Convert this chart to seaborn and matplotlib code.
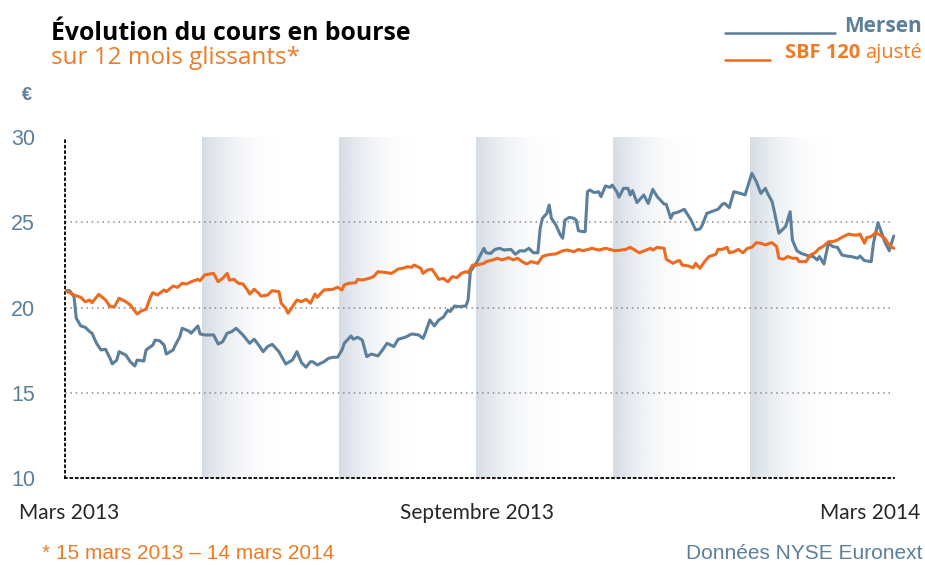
import matplotlib
matplotlib.use("Agg")
import matplotlib.pyplot as plt
from matplotlib.lines import Line2D
import numpy as np
import pandas as pd
import seaborn as sns

# Cours Mersen (jours depuis le 15 mars 2013, euros)
mersen_jour = [0, 2, 4, 5, 7, 9, 11, 12, 14, 16, 18, 20, 21, 23, 24, 27, 29, 31, 32, 35,
               36, 39, 40, 42, 44, 45, 48, 49, 51, 52, 55, 56, 59, 60, 62, 66, 68, 70, 72, 74,
               76, 79, 82, 84, 86, 88, 90, 92, 95, 98, 101, 103, 105, 107, 109, 110, 112, 115, 117, 119,
               121, 123, 124, 127, 128, 130, 132, 134, 136, 139, 141, 143, 146, 148, 151, 154, 157, 159, 160, 162,
               164, 166, 168, 170, 171, 173, 175, 178, 179, 180, 183, 186, 187, 189, 191, 193, 195, 198, 200, 202,
               204, 206, 208, 210, 211, 212, 214, 215, 216, 218, 220, 221, 222, 224, 226, 227, 228, 230, 231, 232,
               233, 235, 237, 238, 240, 242, 243, 245, 246, 248, 250, 251, 252, 254, 257, 259, 261, 263, 266, 267,
               269, 270, 272, 275, 278, 280, 282, 283, 285, 288, 290, 292, 293, 295, 297, 300, 302, 305, 307, 309,
               311, 312, 314, 315, 317, 320, 322, 323, 325, 327, 329, 331, 332, 334, 335, 337, 339, 341, 343, 345,
               347, 349, 352, 353, 355, 358, 359, 361, 363, 364, 366, 368]
mersen_cours = [20.99, 20.99, 20.64, 19.37, 18.92, 18.84, 18.58, 18.49, 17.90, 17.51, 17.55, 17.02, 16.69, 16.92, 17.41, 17.21, 16.82, 16.57, 16.92, 16.86,
                17.51, 17.80, 18.09, 18.05, 17.80, 17.27, 17.51, 17.80, 18.29, 18.78, 18.62, 18.49, 18.92, 18.45, 18.39, 18.39, 17.86, 17.99, 18.49, 18.58,
                18.78, 18.39, 17.90, 18.14, 17.80, 17.41, 17.71, 17.84, 17.41, 16.69, 16.92, 17.41, 16.77, 16.50, 16.82, 16.82, 16.63, 16.82, 17.02, 17.08,
                17.08, 17.51, 17.90, 18.33, 18.14, 18.25, 18.09, 17.12, 17.27, 17.16, 17.51, 17.90, 17.71, 18.14, 18.25, 18.45, 18.39, 18.19, 18.51, 19.27,
                18.92, 19.27, 19.43, 19.85, 19.76, 20.09, 20.05, 20.09, 20.44, 22.10, 22.69, 23.47, 23.21, 23.17, 23.41, 23.47, 23.37, 23.41, 23.12, 23.33,
                23.31, 23.47, 23.21, 23.21, 24.64, 25.23, 25.52, 26.01, 25.23, 24.84, 24.25, 24.06, 25.13, 25.29, 25.23, 25.13, 24.50, 24.45, 24.45, 26.79,
                26.89, 26.74, 26.79, 26.50, 27.13, 27.05, 27.18, 26.79, 26.47, 26.99, 26.99, 26.60, 26.86, 26.15, 26.60, 26.10, 26.93, 26.50, 26.07, 26.05,
                25.23, 25.52, 25.58, 25.76, 25.13, 24.55, 24.61, 24.84, 25.52, 25.66, 25.76, 26.07, 26.10, 25.86, 26.79, 26.69, 26.60, 27.87, 27.38, 26.69,
                26.99, 26.69, 26.21, 25.62, 24.36, 24.75, 25.62, 23.96, 23.33, 23.17, 23.08, 22.99, 23.02, 22.79, 22.99, 22.55, 23.77, 23.57, 23.53, 23.08,
                23.02, 22.99, 22.89, 23.02, 22.75, 22.69, 23.77, 24.97, 24.25, 23.86, 23.33, 24.19]

# SBF 120 ajusté
sbf_jour = [0, 2, 4, 7, 9, 11, 12, 15, 18, 20, 22, 24, 27, 29, 32, 34, 36, 38, 39, 41,
            44, 45, 48, 50, 52, 54, 56, 59, 60, 62, 66, 68, 70, 72, 73, 75, 77, 79, 81, 82,
            84, 86, 87, 90, 92, 95, 96, 98, 99, 101, 103, 105, 107, 109, 111, 112, 115, 119, 121, 123,
            124, 126, 129, 130, 132, 135, 137, 139, 143, 145, 148, 150, 152, 154, 155, 158, 159, 161, 163, 166,
            168, 170, 172, 174, 176, 178, 179, 181, 183, 186, 187, 190, 192, 194, 197, 199, 201, 203, 205, 207,
            210, 212, 214, 216, 218, 221, 223, 226, 228, 230, 234, 237, 240, 242, 244, 246, 249, 251, 253, 255,
            258, 260, 261, 263, 266, 267, 270, 272, 273, 274, 277, 279, 280, 282, 284, 286, 289, 290, 292, 294,
            295, 297, 299, 301, 303, 305, 307, 309, 311, 313, 314, 316, 317, 319, 321, 323, 325, 326, 329, 331,
            333, 335, 337, 339, 341, 343, 345, 348, 350, 352, 353, 355, 356, 358, 360, 362, 364, 366, 368]
sbf_cours = [20.99, 20.87, 20.73, 20.60, 20.34, 20.44, 20.28, 20.77, 20.44, 20.05, 20.05, 20.54, 20.34, 20.15, 19.62, 19.81, 19.90, 20.64, 20.87, 20.73,
             21.03, 20.93, 21.26, 21.18, 21.42, 21.38, 21.51, 21.65, 21.57, 21.91, 22.00, 21.51, 21.71, 22.00, 21.61, 21.65, 21.42, 21.38, 21.03, 20.79,
             21.07, 20.84, 20.67, 20.73, 20.99, 20.93, 20.25, 19.95, 19.66, 20.05, 20.44, 20.34, 20.48, 20.25, 20.79, 20.60, 21.03, 21.07, 21.19, 21.03,
             21.32, 21.42, 21.45, 21.65, 21.61, 21.71, 21.81, 22.10, 22.04, 22.00, 22.26, 22.30, 22.39, 22.36, 22.49, 22.30, 22.00, 22.20, 22.24, 21.65,
             21.71, 21.51, 21.81, 21.75, 22.00, 22.10, 22.04, 22.49, 22.49, 22.59, 22.69, 22.79, 22.89, 22.79, 22.92, 22.79, 22.89, 22.69, 22.55, 22.69,
             22.59, 22.99, 23.08, 23.12, 23.14, 23.33, 23.37, 23.27, 23.41, 23.33, 23.47, 23.37, 23.47, 23.41, 23.33, 23.35, 23.41, 23.53, 23.37, 23.21,
             23.37, 23.47, 23.37, 23.53, 23.47, 22.83, 22.59, 22.73, 22.75, 22.49, 22.43, 22.33, 22.59, 22.30, 22.69, 22.99, 23.12, 23.41, 23.41, 23.53,
             23.21, 23.27, 23.41, 23.21, 23.47, 23.53, 23.80, 23.77, 23.67, 23.77, 23.80, 23.57, 22.89, 22.83, 22.99, 22.89, 22.89, 22.69, 22.69, 23.08,
             23.21, 23.47, 23.61, 23.86, 23.86, 23.96, 24.12, 24.31, 24.25, 24.25, 24.31, 23.77, 24.10, 24.16, 24.39, 24.25, 24.06, 23.67, 23.47]

y_ticks = [10, 15, 20, 25, 30]
mois_labels = ["Mars 2013", "Septembre 2013", "Mars 2014"]

BLEU = "#5c7f9b"
ORANGE = "#ee6a1f"
ORANGE_TXT = "#ef7b26"

df = pd.concat([
    pd.DataFrame({"jour": mersen_jour, "cours": mersen_cours, "serie": "Mersen"}),
    pd.DataFrame({"jour": sbf_jour, "cours": sbf_cours, "serie": "SBF 120 ajusté"}),
])

sns.set_style("white")
plt.rcParams['font.family'] = ['Liberation Sans', 'DejaVu Sans']
titre_font = ['Open Sans', 'DejaVu Sans']

fig = plt.figure(figsize=(9.25, 5.65), dpi=100)
ax = fig.add_axes([65 / 925, 1 - 478 / 565, (898 - 65) / 925, (478 - 137) / 565])
month = 365 / 12

# bandes grisées en dégradé, un mois sur deux
band_rgb = np.array([0.80, 0.835, 0.875])
t = np.linspace(0, 1, 256)
for m in (2, 4, 6, 8, 10):
    img = np.ones((1, 256, 4))
    img[..., :3] = band_rgb
    img[..., 3] = 0.82 * (1 - t) ** 2.4
    ax.imshow(img, extent=[m * month, (m + 1.3) * month, 10, 30],
              aspect='auto', interpolation='bilinear', zorder=0)

ax.hlines([15, 20, 25], 0, 367, colors='#8a8a8a', linestyles=(0, (1, 2.5)), lw=1.1, zorder=1)

sns.lineplot(data=df, x="jour", y="cours", hue="serie",
             palette={"Mersen": BLEU, "SBF 120 ajusté": ORANGE},
             estimator=None, lw=2.2, legend=False, ax=ax, zorder=3)

ax.set_xlim(0, 369.9)
ax.set_ylim(10, 30)
ax.set_xlabel("")
ax.set_ylabel("")
ax.set_facecolor("none")

ax.set_yticks(y_ticks)
ax.set_yticklabels([str(v) for v in y_ticks])
ax.tick_params(axis='y', direction='out', length=14.5, width=1.6, color=BLEU,
               labelcolor=BLEU, labelsize=15.5, pad=7)
ax.set_xticks([m * month for m in range(13)])
ax.set_xticklabels([])
ax.tick_params(axis='x', direction='in', length=7, width=1, color='#555555')

for s in ("top", "right"):
    ax.spines[s].set_visible(False)
for s in ("left", "bottom"):
    ax.spines[s].set_linestyle((0, (1, 2)))
    ax.spines[s].set_linewidth(1.3)
    ax.spines[s].set_color("black")
ax.spines["bottom"].set_bounds(0, 368)

# titres
fig.text(51 / 925, 1 - 40 / 565, "Évolution du cours en bourse", fontsize=17.8, fontweight='bold',
         family=titre_font, color='black', va='baseline')
fig.text(51 / 925, 1 - 64 / 565, "sur 12 mois glissants*", fontsize=17.5,
         family=titre_font, color=ORANGE_TXT, va='baseline')
fig.text(22 / 925, 1 - 100 / 565, "€", fontsize=13, fontweight='bold', color=BLEU, va='baseline')

# légende
fig.add_artist(Line2D([725 / 925, 835 / 925], [1 - 33 / 565] * 2, color=BLEU, lw=1.8))
fig.add_artist(Line2D([725 / 925, 770 / 925], [1 - 60 / 565] * 2, color=ORANGE, lw=1.8))
fig.text(922 / 925, 1 - 32 / 565, "Mersen", fontsize=15, fontweight='bold',
         family=titre_font, color=BLEU, ha='right', va='baseline')
fig.text(860 / 925, 1 - 58 / 565, "SBF 120", fontsize=14.5, fontweight='bold',
         family=titre_font, color=ORANGE_TXT, ha='right', va='baseline')
fig.text(922 / 925, 1 - 58 / 565, "ajusté", fontsize=14.5,
         family=titre_font, color=ORANGE_TXT, ha='right', va='baseline')

# étiquettes de mois
fig.text(69 / 925, 1 - 519 / 565, mois_labels[0], fontsize=15, family=['Lato', 'DejaVu Sans'],
         ha='center', va='baseline')
fig.text(477 / 925, 1 - 519 / 565, mois_labels[1], fontsize=15, family=['Lato', 'DejaVu Sans'],
         ha='center', va='baseline')
fig.text(920 / 925, 1 - 519 / 565, mois_labels[2], fontsize=15, family=['Lato', 'DejaVu Sans'],
         ha='right', va='baseline')

# notes
fig.text(42 / 925, 1 - 559 / 565, "* 15 mars 2013 – 14 mars 2014", fontsize=15,
         color=ORANGE_TXT, va='baseline')
fig.text(922 / 925, 1 - 559 / 565, "Données NYSE Euronext", fontsize=15,
         color=BLEU, ha='right', va='baseline')

fig.savefig("out.png", dpi=100)
